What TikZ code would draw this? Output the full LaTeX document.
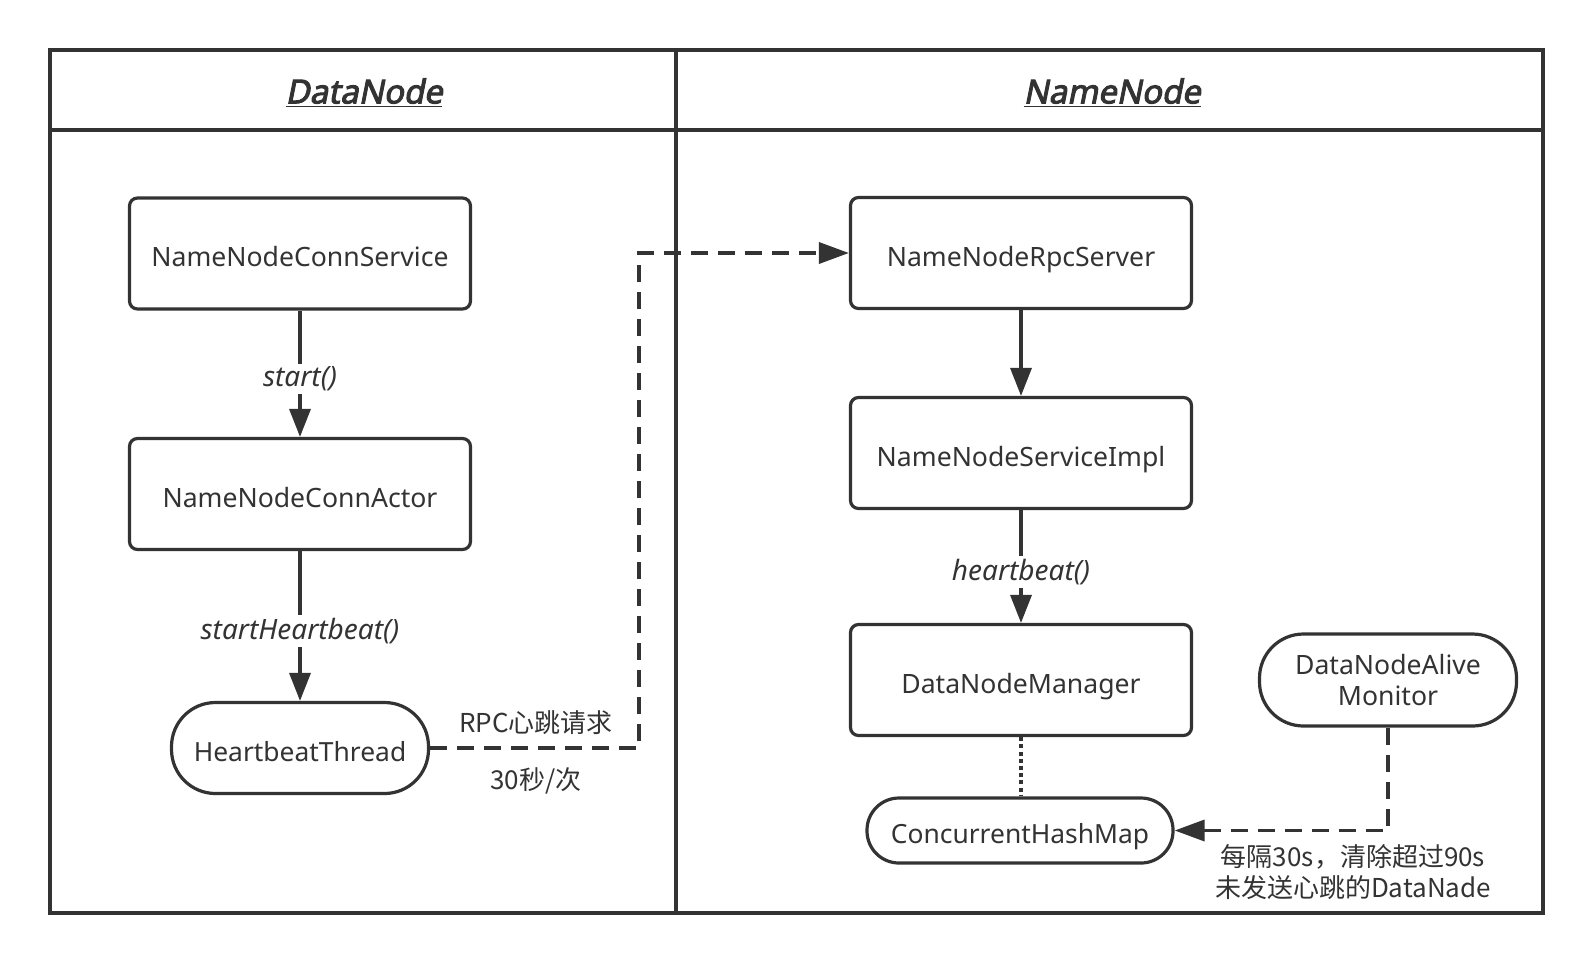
\documentclass[tikz,border=0pt]{standalone}
\usepackage{fontspec}
\setmainfont{Noto Sans}
\newfontfamily\cjk{Noto Sans CJK SC}
\newfontfamily\headfont[FakeSlant=0.2,FakeBold=3]{Noto Sans}
\usetikzlibrary{arrows.meta}
\definecolor{ink}{HTML}{333333}
\begin{document}
\begin{tikzpicture}[x=0.5pt,y=-0.5pt,
  every node/.style={text=ink},
  frameline/.style={draw=ink,line width=2pt},
  boxnode/.style={draw=ink,line width=1.6pt,rounded corners=4pt,minimum width=170.5pt,minimum height=55.5pt,inner sep=0pt,text height=13.2pt,text depth=0pt,font=\fontsize{13.3}{16}\selectfont},
  pillnode/.style={draw=ink,line width=1.6pt,rounded corners=22pt,inner sep=0pt,text height=13.2pt,text depth=0pt,font=\fontsize{13.2}{16}\selectfont,align=center},
  headtext/.style={inner sep=0pt,font=\headfont\fontsize{16.5}{19}\selectfont},
  lbl/.style={fill=white,inner sep=1.5pt,yshift=-2.6pt,font=\fontsize{14}{16}\selectfont\itshape},
  cnlbl/.style={inner sep=0pt,font=\cjk\fontsize{13}{15.5}\selectfont,align=center},
  solidarrow/.style={draw=ink,line width=1.7pt,-{Triangle[length=14pt,width=10.5pt]}},
  dasharrow/.style={draw=ink,line width=1.8pt,dash pattern=on 8.5pt off 5pt,-{Triangle[length=15pt,width=10.5pt]}},
  dotline/.style={draw=ink,line width=2pt,dash pattern=on 2pt off 1.6pt}
]
\useasboundingbox[fill=white] (0,0) rectangle (1594,964);
% frame
\draw[frameline] (50,50) rectangle (1543,913);
\draw[frameline] (50,130) -- (1543,130);
\draw[frameline] (676,50) -- (676,913);
\node[headtext] (hdn) at (364,93) {\underline{DataNode}};
\node[headtext] (hnn) at (1112,93) {\underline{NameNode}};
% left column
\node[boxnode] (svc) at (300,253.5) {NameNodeConnService};
\node[boxnode] (act) at (300,494) {NameNodeConnActor};
\node[pillnode,minimum width=128.5pt,minimum height=45.5pt] (hb) at (300,748) {HeartbeatThread};
% right column
\node[boxnode] (rpc) at (1021,253) {NameNodeRpcServer};
\node[boxnode] (impl) at (1021,453) {NameNodeServiceImpl};
\node[boxnode] (mgr) at (1021,680) {DataNodeManager};
\node[pillnode,minimum width=153pt,minimum height=32.5pt,rounded corners=16pt] (chm) at (1020,830.5) {ConcurrentHashMap};
\node[pillnode,text height={},text depth={},minimum width=128.5pt,minimum height=46pt,font=\fontsize{13.3}{15.5}\selectfont] (mon) at (1388,680) {DataNodeAlive\\Monitor};
% connectors
\draw[solidarrow] (svc.south) -- node[lbl] (l1) {start()} (act.north);
\draw[solidarrow] (act.south) -- node[lbl] (l2) {startHeartbeat()} (hb.north);
\draw[solidarrow] (rpc.south) -- (impl.north);
\draw[solidarrow] (impl.south) -- node[lbl] (l3) {heartbeat()} (mgr.north);
\draw[dotline] (mgr.south) -- (mgr.south |- chm.north);
\coordinate (kx) at (639,0);
\draw[dasharrow] (hb.east) -- (hb.east -| kx) |- (rpc.west);
\draw[dasharrow] (mon.south) |- (chm.east);
% labels
\node[cnlbl] (rpclbl) at (536,723) {RPC心跳请求};
\node[cnlbl] (freq) at (536,781) {30秒/次};
\node[cnlbl] (clean) at (1353,872) {每隔30s，清除超过90s\\未发送心跳的DataNade};
\end{tikzpicture}
\end{document}
